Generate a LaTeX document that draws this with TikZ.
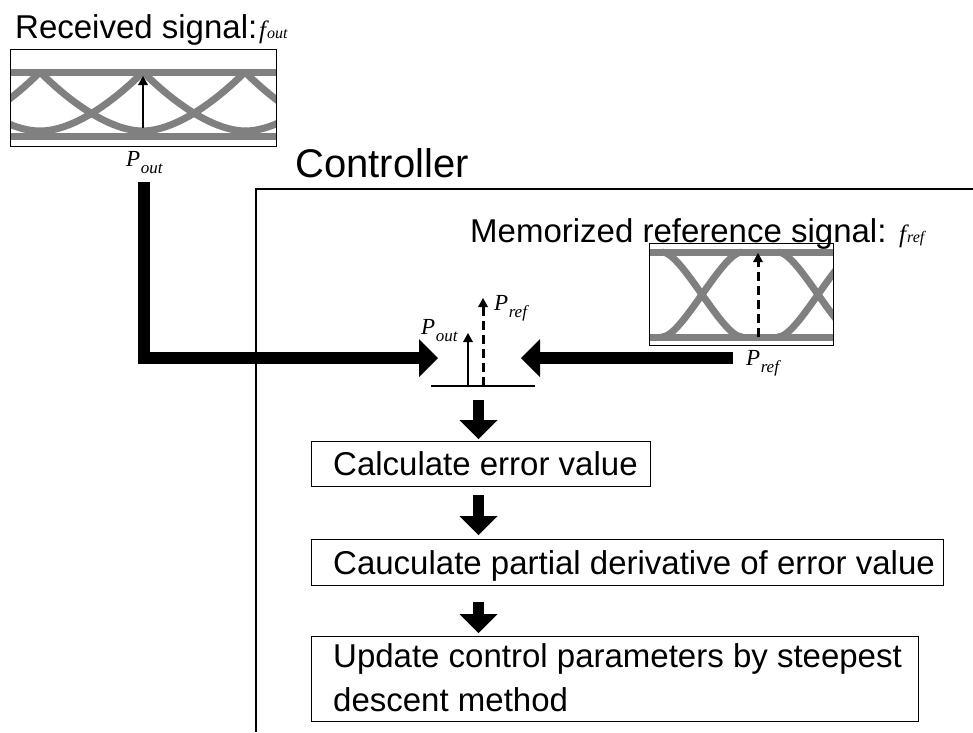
\documentclass[tikz,border=0pt]{standalone}
\usepackage{fontspec}
\setmainfont{Liberation Sans}
\newfontfamily\tms{Liberation Serif}
\usetikzlibrary{arrows.meta}
\definecolor{eyegray}{RGB}{128,128,128}
\newcommand{\Plab}[1]{{\tms\itshape\fontsize{23}{23}\selectfont P\kern0.5pt\raisebox{-7pt}{\fontsize{17}{17}\selectfont #1}}}
\newcommand{\Flab}[1]{{\tms\itshape\fontsize{25}{25}\selectfont f\kern1pt{\fontsize{16}{16}\selectfont #1}}}
\begin{document}
\begin{tikzpicture}[x=1pt,y=-1pt,
  txt/.style={inner sep=0pt, anchor=base west, font=\fontsize{33}{38}\selectfont},
  lab/.style={inner sep=0pt, anchor=base west},
  flowbox/.style={draw, line width=1.4pt, inner sep=0pt, anchor=north west},
  eyebox/.style={draw, line width=1.2pt, inner sep=0pt, anchor=north west},
  eyeline/.style={eyegray, line width=7pt},
  bigarrow/.style={line width=11.5pt, line join=miter, -{Triangle[width=38pt,length=19pt,line width=0pt]}},
  thinarrow/.style={line width=2.5pt, -{Triangle[width=10pt,length=9pt,line width=0pt]}},
  dasharrow/.style={line width=3pt, dash pattern=on 9pt off 5pt, -{Triangle[width=10pt,length=9pt,line width=0pt]}}
]
\useasboundingbox (0,0) rectangle (973,732);

% ---------- received signal ----------
\node[txt] (rtitle) at (15,38) {Received signal:};
\node[lab] (fout) at (259,38) {\Flab{out}};
\begin{scope}
  \clip (10,49) rectangle (276,146);
  \foreach \p in {-63,40,143,245,348}{
    \draw[eyeline] (\p,72) .. controls (\p+30,102) and (\p+70,131) .. (\p+103,131);
    \draw[eyeline] (\p-103,131) .. controls (\p-70,131) and (\p-30,102) .. (\p,72);
  }
  \draw[eyeline] (10,72) -- (276,72);
  \draw[eyeline] (10,136) -- (276,136);
\end{scope}
\node[eyebox, minimum width=266pt, minimum height=97pt] (rbox) at (10,49) {};
\coordinate (ra0) at (143,128);
\coordinate (ra1) at (143,76);
\draw[thinarrow] (ra0) -- (ra1);
\node[lab] (pout1) at (126,166) {\Plab{out}};

% ---------- controller frame ----------
\node[txt, font=\fontsize{40}{44}\selectfont] (ctl) at (295,177) {Controller};
\draw[line width=1.3pt] (256,732) -- (256,189) -- (973,189);

% ---------- reference signal ----------
\node[txt] (mtitle) at (470,242) {Memorized reference signal:};
\node[lab] (fref) at (899,242) {\Flab{ref}};
\begin{scope}
  \clip (649,243) rectangle (833,345);
  \foreach \c in {586,702,818,934}{
    \draw[eyeline] (\c-40,252) .. controls (\c-20,252) and (\c+20,337) .. (\c+40,337);
    \draw[eyeline] (\c-40,337) .. controls (\c-20,337) and (\c+20,252) .. (\c+40,252);
  }
  \draw[eyeline] (649,252) -- (833,252);
  \draw[eyeline] (649,337) -- (833,337);
\end{scope}
\node[eyebox, minimum width=184pt, minimum height=102pt] (fbox) at (649,243) {};
\coordinate (fa0) at (758,337);
\coordinate (fa1) at (758,253);
\draw[dasharrow] (fa0) -- (fa1);
\node[lab] (pref2) at (746,365) {\Plab{ref}};

% ---------- comparison sketch ----------
\coordinate (bl) at (431,386);
\coordinate (br) at (535,386);
\draw[line width=1.5pt] (bl) -- (br);
\coordinate (so0) at (468,386);
\coordinate (so1) at (468,333);
\draw[thinarrow] (so0) -- (so1);
\coordinate (sr0) at (483,386);
\coordinate (sr1) at (483,298);
\draw[dasharrow] (sr0) -- (sr1);
\node[lab] (pout2) at (421,334) {\Plab{out}};
\node[lab] (pref1) at (494,310) {\Plab{ref}};

% ---------- big arrows ----------
\coordinate (la0) at (144,182);
\coordinate (la1) at (438,358);
\draw[bigarrow] (la0) |- (la1);
\coordinate (ha0) at (733,358);
\coordinate (ha1) at (521,358);
\draw[bigarrow] (ha0) -- (ha1);

% ---------- flow boxes ----------
\node[flowbox, minimum width=339pt, minimum height=45pt] (b1) at (311,441) {};
\node[txt] (t1) at (333,475) {Calculate error value};
\node[flowbox, minimum width=632pt, minimum height=46pt] (b2) at (311,539) {};
\node[txt] (t2) at (333,574) {Cauculate partial derivative of error value};
\node[flowbox, minimum width=607pt, minimum height=85pt] (b3) at (311,636) {};
\node[txt] (t3a) at (333,667) {Update control parameters by steepest};
\node[txt] (t3b) at (333,711) {descent method};

\coordinate (d1) at (478.5,400);
\coordinate (d1e) at (478.5,439);
\draw[bigarrow] (d1) -- (d1e);
\coordinate (d2) at (478.5,495);
\coordinate (d2e) at (478.5,535);
\draw[bigarrow] (d2) -- (d2e);
\coordinate (d3) at (478.5,602);
\coordinate (d3e) at (478.5,633);
\draw[bigarrow] (d3) -- (d3e);
\end{tikzpicture}
\end{document}
